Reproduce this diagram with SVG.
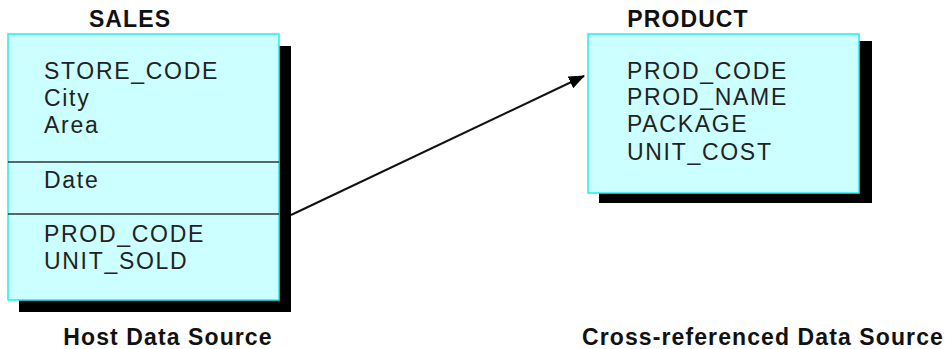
<svg xmlns="http://www.w3.org/2000/svg" width="951" height="349" viewBox="0 0 951 349">
<defs>
<style>
.shadow{fill:#000}
.box{fill:#ccffff;stroke:#22eeee;stroke-width:1.5}
.div{stroke:#333;stroke-width:1.5}
.f{font-family:"Liberation Sans",Arial,sans-serif;font-size:23px;fill:#222;letter-spacing:1.7px}
.t{font-family:"Liberation Sans",Arial,sans-serif;font-size:23px;font-weight:bold;fill:#111;letter-spacing:1.1px}
.c{stroke:#111;stroke-width:2;fill:none}
</style>
<marker id="ah" markerWidth="16" markerHeight="13" refX="15" refY="6.5" orient="auto" markerUnits="userSpaceOnUse" viewBox="0 0 16 13">
<path d="M0,0 L16,6.5 L0,13 z" fill="#000"/>
</marker>
</defs>
<rect width="951" height="349" fill="#fff"/>
<g id="sales">
<rect class="shadow" x="19" y="46" width="272" height="266"/>
<rect class="box" x="8" y="34" width="271" height="266"/>
<line class="div" x1="8" y1="162" x2="279" y2="162"/>
<line class="div" x1="8" y1="214" x2="279" y2="214"/>
<text class="t" x="130" y="27" text-anchor="middle">SALES</text>
<text class="f" x="44" y="79">STORE_CODE</text>
<text class="f" x="44" y="106">City</text>
<text class="f" x="44" y="133">Area</text>
<text class="f" x="44" y="188">Date</text>
<text class="f" x="44" y="242">PROD_CODE</text>
<text class="f" x="44" y="269">UNIT_SOLD</text>
<text class="t" x="168" y="345" text-anchor="middle">Host Data Source</text>
</g>
<g id="product">
<rect class="shadow" x="599" y="41" width="273" height="162"/>
<rect class="box" x="588" y="34" width="271" height="159"/>
<text class="t" x="688" y="27" text-anchor="middle">PRODUCT</text>
<text class="f" x="627" y="79">PROD_CODE</text>
<text class="f" x="627" y="105">PROD_NAME</text>
<text class="f" x="627" y="132">PACKAGE</text>
<text class="f" x="627" y="160">UNIT_COST</text>
<text class="t" x="763" y="345" text-anchor="middle">Cross-referenced Data Source</text>
</g>
<g id="connectors">
<line class="c" x1="291" y1="215" x2="584" y2="76" marker-end="url(#ah)"/>
</g>
</svg>
